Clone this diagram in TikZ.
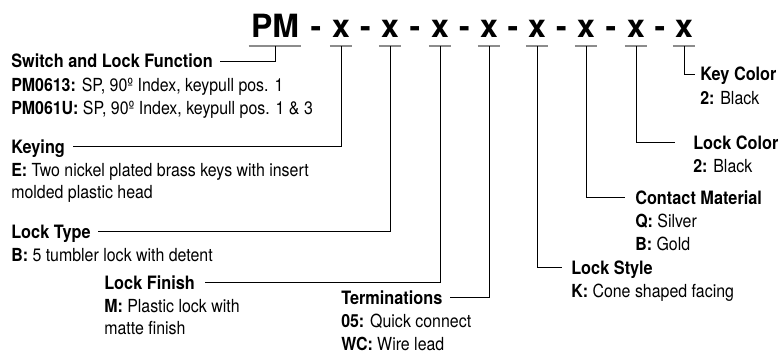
\documentclass[tikz,border=0pt]{standalone}
\usepackage{fontspec}
\setmainfont{TeX Gyre Heros}[FakeStretch=0.885]
\newfontfamily\codefont{TeX Gyre Heros}
\usetikzlibrary{positioning}

\begin{document}
\begin{tikzpicture}[
    x=0.75pt, y=-0.75pt,
    code/.style={font=\codefont\bfseries\fontsize{24}{24}\selectfont, inner xsep=1.5pt, inner ysep=0pt, anchor=base},
    ttl/.style={font=\bfseries\fontsize{13.8}{16}\selectfont, inner sep=0pt, text height=9.6pt, text depth=0pt, anchor=base west},
    body/.style={font=\fontsize{13.5}{17}\selectfont, align=left, inner sep=0pt, anchor=north west},
    uline/.style={draw=black!45, line width=1pt},
    lead/.style={draw, line width=0.6pt, shorten >=5.5pt}
    ]
\useasboundingbox (0,0) rectangle (778,353);

\node[code] (pm) at (275,38) {PM};
\draw[uline] ([yshift=-6pt]pm.base west) -- ([yshift=-6pt]pm.base east);
\foreach \cx [count=\i] in {341,390,440,489,537,586,636,684} {
  \node[code] (x\i) at (\cx,38) {x};
  \draw[uline] ([yshift=-6pt]x\i.base west) -- ([yshift=-6pt]x\i.base east);
}
\foreach \cx [count=\i] in {316,365.5,415,464.5,513,561.5,611,660}
  \node[code] (d\i) at (\cx,38) {-};

\node[ttl] (switch) at (11,68) {Switch and Lock Function};
\node[body, below=7.4pt of switch.base west, anchor=north west] (switchtxt) {\textbf{PM0613:} SP, 90º Index, keypull pos. 1\\\textbf{PM061U:} SP, 90º Index, keypull pos. 1 \& 3};

\node[ttl] (keying) at (11,153) {Keying};
\node[body, below=7.4pt of keying.base west, anchor=north west] (keyingtxt) {\textbf{E:} Two nickel plated brass keys with insert\\molded plastic head};

\node[ttl] (locktype) at (11,238) {Lock Type};
\node[body, below=7.4pt of locktype.base west, anchor=north west] (locktypetxt) {\textbf{B:} 5 tumbler lock with detent};

\node[ttl] (finish) at (104,289) {Lock Finish};
\node[body, below=7.4pt of finish.base west, anchor=north west] (finishtxt) {\textbf{M:} Plastic lock with\\matte finish};

\node[ttl] (term) at (341,304) {Terminations};
\node[body, below=7.4pt of term.base west, anchor=north west] (termtxt) {\textbf{05:} Quick connect\\\textbf{WC:} Wire lead};

\node[ttl] (style) at (571,274) {Lock Style};
\node[body, below=7.4pt of style.base west, anchor=north west] (styletxt) {\textbf{K:} Cone shaped facing};

\node[ttl] (contact) at (635,204) {Contact Material};
\node[body, below=7.4pt of contact.base west, anchor=north west] (contacttxt) {\textbf{Q:} Silver\\\textbf{B:} Gold};

\node[ttl] (lockcol) at (693,149) {Lock Color};
\node[body, below=7.4pt of lockcol.base west, anchor=north west] (lockcoltxt) {\textbf{2:} Black};

\node[ttl] (keycol) at (700,81) {Key Color};
\node[body, below=7.4pt of keycol.base west, anchor=north west] (keycoltxt) {\textbf{2:} Black};

\draw[lead] ([yshift=-6pt]pm.base) |- (switch.east);
\draw[lead, shorten >=6pt] ([yshift=-6pt]x1.base) |- (keying.east);
\draw[lead] ([yshift=-6pt]x2.base) |- (locktype.east);
\draw[lead, shorten >=7.5pt] ([yshift=-6pt]x3.base) |- (finish.east);
\draw[lead] ([yshift=-6pt]x4.base) |- (term.east);
\draw[lead, shorten >=6.75pt] ([yshift=-6pt]x5.base) |- (style.west);
\draw[lead, shorten >=7.5pt] ([yshift=-6pt]x6.base) |- (contact.west);
\draw[lead, shorten >=13.5pt] ([yshift=-6pt]x7.base) |- (lockcol.west);
\draw[lead, shorten >=3.75pt] ([yshift=-6pt]x8.base) |- (keycol.west);
\end{tikzpicture}
\end{document}
